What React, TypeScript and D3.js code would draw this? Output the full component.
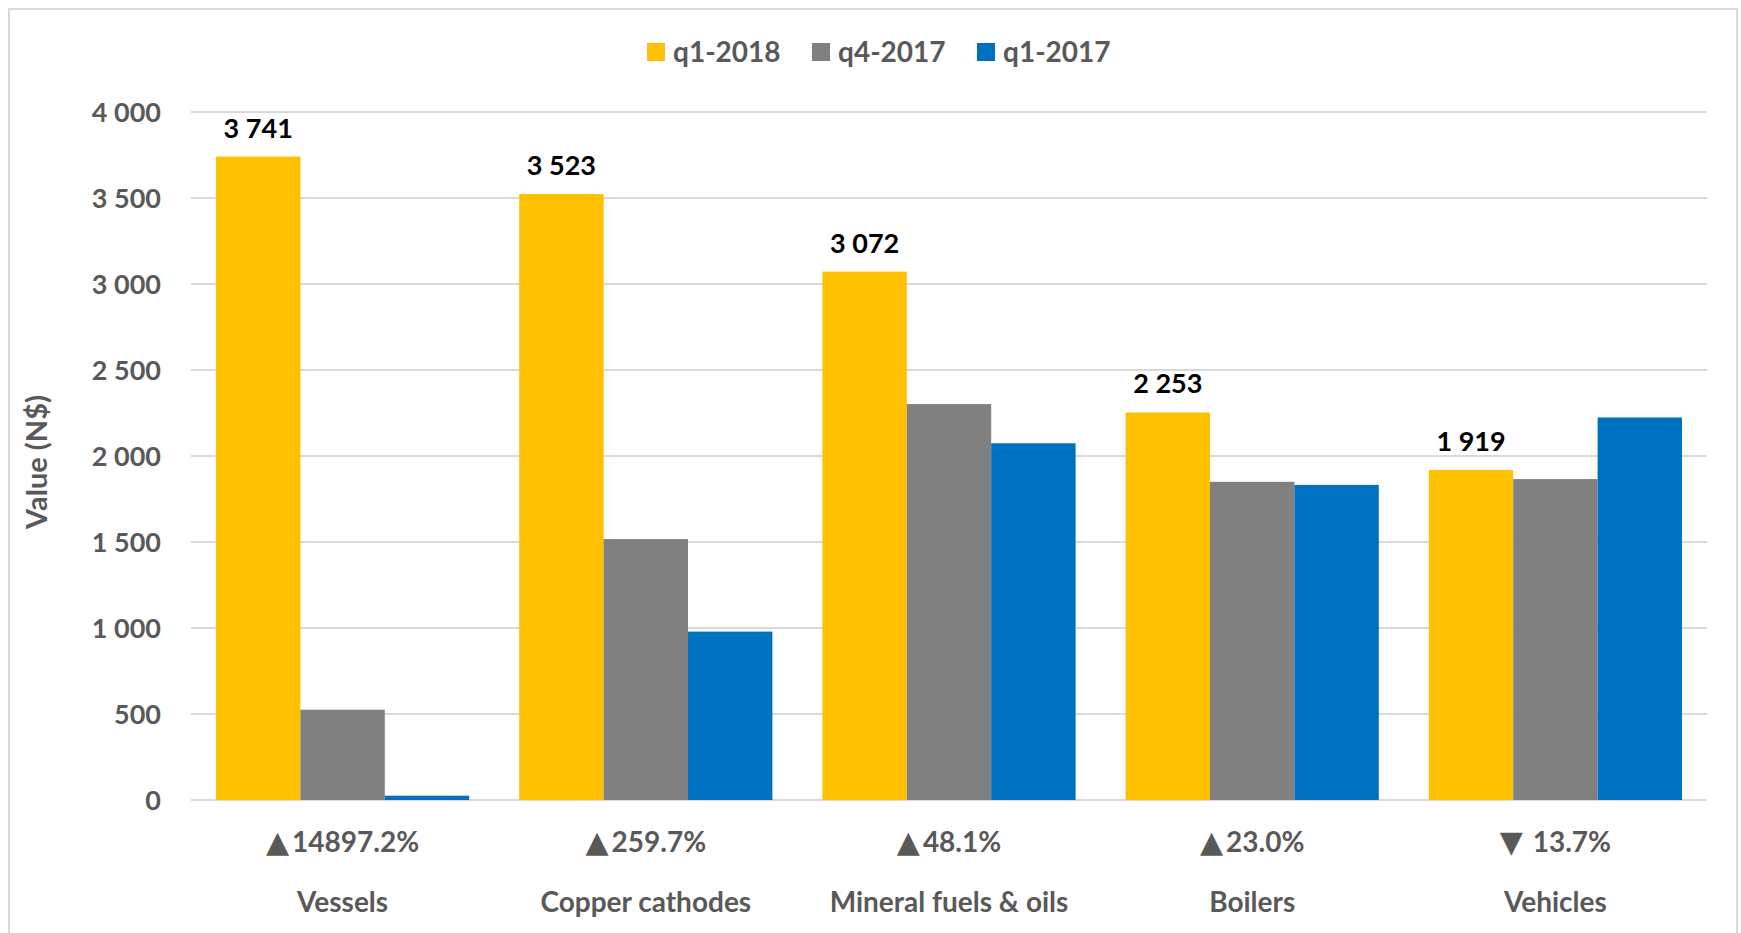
import React from 'react';
import * as d3 from 'd3';

const categories = ['Vessels', 'Copper cathodes', 'Mineral fuels & oils', 'Boilers', 'Vehicles'];
const seriesNames = ['q1-2018', 'q4-2017', 'q1-2017'];
const q1_2018 = [3741, 3523, 3072, 2253, 1919];
const q4_2017 = [525, 1517, 2302, 1850, 1866];
const q1_2017 = [25, 979, 2074, 1832, 2224];
const changePct = [14897.2, 259.7, 48.1, 23.0, -13.7];
const yTicks = [0, 500, 1000, 1500, 2000, 2500, 3000, 3500, 4000];

const colors = ['#FFC000', '#808080', '#0070C0'];
const textGrey = '#595959';
const font = 'Lato, "Open Sans", sans-serif';

const width = 1741;
const height = 933;
const plot = { left: 191, right: 1707, top: 112, bottom: 800 };

const locale = d3.formatLocale({ decimal: '.', thousands: ' ', grouping: [3], currency: ['', ''] });
const fmt = locale.format(',d');

export default function App() {
  const series = [q1_2018, q4_2017, q1_2017];

  const x = d3.scaleBand<string>()
    .domain(categories)
    .range([plot.left, plot.right])
    .paddingInner(0.165)
    .paddingOuter(0.0825);

  const xInner = d3.scaleBand<string>()
    .domain(seriesNames)
    .range([0, x.bandwidth()]);

  const y = d3.scaleLinear().domain([0, 4000]).range([plot.bottom, plot.top]);

  // legend layout
  const legendX = [647, 812, 977];

  return (
    <svg width={width} height={height} style={{ position: 'absolute', left: 0, top: 0, background: '#fff' }}>
      <rect x={9} y={9} width={1728} height={940} fill="#fff" stroke="#d9d9d9" strokeWidth={2} />

      {/* gridlines */}
      {yTicks.map(t => (
        <line key={t} x1={plot.left} x2={plot.right} y1={y(t)} y2={y(t)} stroke="#d9d9d9" strokeWidth={2} />
      ))}

      {/* y tick labels */}
      {yTicks.map(t => (
        <text key={'l' + t} x={161} y={y(t)} dy="0.36em" textAnchor="end"
          fontFamily={font} fontWeight={700} fontSize={27} fill={textGrey}>
          {fmt(t)}
        </text>
      ))}

      <text transform={`translate(47, ${(plot.top + plot.bottom) / 2 + 6}) rotate(-90)`} textAnchor="middle"
        fontFamily={font} fontWeight={700} fontSize={29} fill={textGrey}>
        Value (N$)
      </text>

      {/* bars */}
      {series.map((vals, si) => (
        <g key={seriesNames[si]}>
          {vals.map((v, ci) => (
            <rect key={ci}
              x={(x(categories[ci]) ?? 0) + (xInner(seriesNames[si]) ?? 0)}
              y={y(v)}
              width={xInner.bandwidth()}
              height={y(0) - y(v)}
              fill={colors[si]} />
          ))}
        </g>
      ))}

      {/* data labels for q1-2018 */}
      {q1_2018.map((v, ci) => (
        <text key={'d' + ci}
          x={(x(categories[ci]) ?? 0) + (xInner(seriesNames[0]) ?? 0) + xInner.bandwidth() / 2}
          y={y(v) - 19} textAnchor="middle"
          fontFamily={font} fontWeight={700} fontSize={27} fill="#000">
          {fmt(v)}
        </text>
      ))}

      {/* change labels */}
      {changePct.map((p, ci) => (
        <text key={'p' + ci} x={(x(categories[ci]) ?? 0) + x.bandwidth() / 2} y={852} textAnchor="middle"
          fontFamily={font} fontWeight={700} fontSize={28} fill={textGrey}>
          <tspan fontFamily='"DejaVu Sans", sans-serif' fontSize={30}>{p >= 0 ? '▲' : '▼'}</tspan>
          <tspan dx={3}>{p >= 0 ? `${p.toFixed(1)}%` : ` ${Math.abs(p).toFixed(1)}%`}</tspan>
        </text>
      ))}

      {/* category labels */}
      {categories.map(c => (
        <text key={c} x={(x(c) ?? 0) + x.bandwidth() / 2} y={912} textAnchor="middle"
          fontFamily={font} fontWeight={700} fontSize={28} fill={textGrey}>
          {c}
        </text>
      ))}

      {/* legend */}
      {seriesNames.map((s, i) => (
        <g key={s} transform={`translate(${legendX[i]}, 43)`}>
          <rect width={18} height={18} fill={colors[i]} />
          <text x={26} y={19} fontFamily={font} fontWeight={700} fontSize={28} fill={textGrey}>{s}</text>
        </g>
      ))}
    </svg>
  );
}
